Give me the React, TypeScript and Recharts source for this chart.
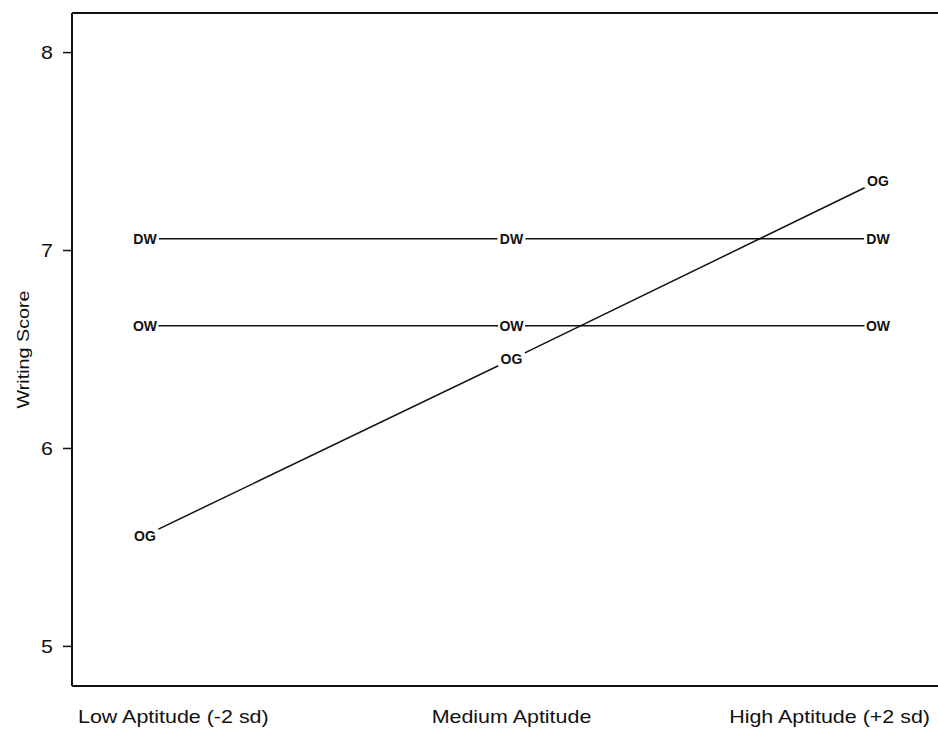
import { LineChart, Line, XAxis, YAxis, ReferenceLine } from 'recharts';

const categories = ['Low Aptitude (-2 sd)', 'Medium Aptitude', 'High Aptitude (+2 sd)'];
const dwScores = [7.06, 7.06, 7.06];
const owScores = [6.62, 6.62, 6.62];
const ogScores = [5.56, 6.45, 7.35];
const yTicks = [5, 6, 7, 8];
const yDomain = [4.8, 8.2];

const data = categories.map((category, i) => ({
  category,
  DW: dwScores[i],
  OW: owScores[i],
  OG: ogScores[i],
}));

const FONT = '"Liberation Sans", Arial, Helvetica, sans-serif';
const STRETCH = 1.16; // the scanned text is a bit wide

// group code drawn in place of a point marker, with a white patch so the line stops short
const makeMarker = (code: string) => (props: any) => {
  const { cx, cy, index } = props;
  if (cx == null || cy == null) return <g key={`m-${code}-${index}`} />;
  const w = code === 'DW' ? 24 : 23;
  return (
    <g key={`m-${code}-${index}`}>
      <rect x={cx - w / 2 - 2} y={cy - 7} width={w + 4} height={14} fill="#fff" />
      <text
        x={cx}
        y={cy}
        textAnchor="middle"
        dominantBaseline="central"
        fontFamily={FONT}
        fontWeight="bold"
        fontSize={14}
        fill="#111"
      >
        {code}
      </text>
    </g>
  );
};

const XTick = (props: any) => {
  const { x, y, payload, index } = props;
  // end labels sit inside the frame, middle one centered
  let anchor: 'start' | 'middle' | 'end' = 'middle';
  let dx = 0;
  if (index === 0) {
    anchor = 'start';
    dx = -67;
  } else if (index === categories.length - 1) {
    anchor = 'end';
    dx = 52;
  }
  return (
    <g transform={`translate(${x + dx},${y + 37}) scale(${STRETCH},1)`}>
      <text textAnchor={anchor} fontFamily={FONT} fontSize={18.5} fill="#111">
        {payload.value}
      </text>
    </g>
  );
};

const YTick = (props: any) => {
  const { x, y, payload } = props;
  return (
    <g transform={`translate(${x},${y}) scale(${STRETCH},1)`}>
      <text textAnchor="end" dominantBaseline="central" fontFamily={FONT} fontSize={18.5} fill="#111">
        {payload.value}
      </text>
    </g>
  );
};

const YLabel = (props: any) => {
  const { viewBox } = props;
  const cy = viewBox.y + viewBox.height / 2;
  const cx = 23;
  return (
    <g transform={`translate(${cx},${cy}) rotate(-90) scale(${STRETCH},1)`}>
      <text textAnchor="middle" dominantBaseline="central" fontFamily={FONT} fontSize={17} fill="#111">
        Writing Score
      </text>
    </g>
  );
};

export default function App() {
  return (
    <div style={{ position: 'absolute', left: 0, top: 0, width: 938, height: 730, overflow: 'hidden', background: '#fff' }}>
      <LineChart width={960} height={730} data={data} margin={{ top: 13, right: 9, bottom: 0, left: 0 }}>
        <XAxis
          dataKey="category"
          padding={{ left: 73, right: 73 }}
          axisLine={{ stroke: '#111', strokeWidth: 2 }}
          tickLine={false}
          tickSize={0}
          tickMargin={0}
          height={44}
          interval={0}
          tick={<XTick />}
        />
        <YAxis
          type="number"
          domain={yDomain}
          ticks={yTicks}
          width={72}
          axisLine={{ stroke: '#111', strokeWidth: 2 }}
          tickLine={{ stroke: '#111', strokeWidth: 1.5 }}
          tickSize={9}
          tickMargin={10}
          tick={<YTick />}
          label={<YLabel />}
        />
        <ReferenceLine y={yDomain[1]} stroke="#111" strokeWidth={2} />
        <Line
          dataKey="DW"
          stroke="#111"
          strokeWidth={1.5}
          dot={makeMarker('DW')}
          activeDot={false}
          isAnimationActive={false}
        />
        <Line
          dataKey="OW"
          stroke="#111"
          strokeWidth={1.5}
          dot={makeMarker('OW')}
          activeDot={false}
          isAnimationActive={false}
        />
        <Line
          dataKey="OG"
          stroke="#111"
          strokeWidth={1.5}
          dot={makeMarker('OG')}
          activeDot={false}
          isAnimationActive={false}
        />
      </LineChart>
    </div>
  );
}
